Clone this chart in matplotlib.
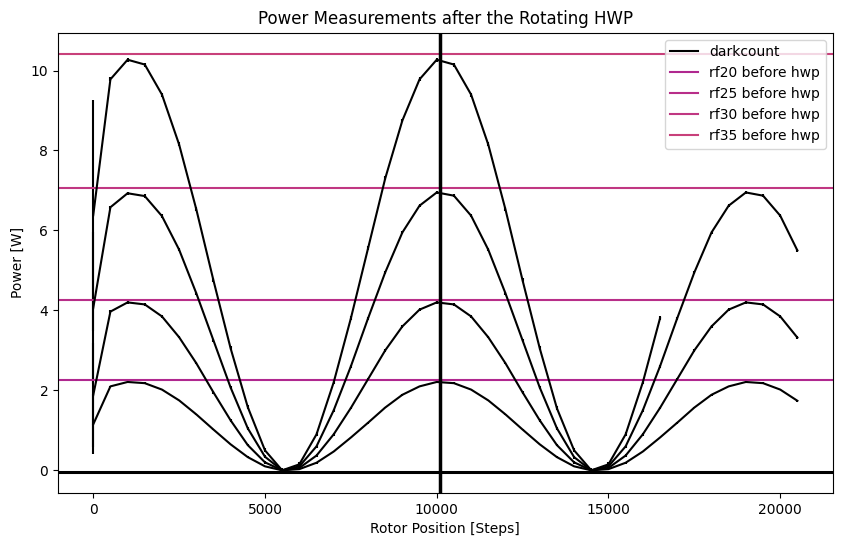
import numpy as np
import matplotlib
matplotlib.use("Agg")
import matplotlib.pyplot as plt

# Rotor positions [steps]
steps = np.arange(0, 20501, 500)

# Power after the HWP [W], one list per rf setting
p_rf35 = [6.38, 9.78, 10.27, 10.15, 9.40, 8.15, 6.53, 4.75, 3.05, 1.58, 0.50, 0.00,
          0.15, 0.90, 2.20, 3.80, 5.55, 7.30, 8.75, 9.78, 10.27, 10.15, 9.40, 8.15,
          6.53, 4.75, 3.05, 1.55, 0.50, 0.00, 0.15, 0.90, 2.20, 3.80]
p_rf30 = [4.06, 6.58, 6.93, 6.86, 6.36, 5.52, 4.43, 3.25, 2.07, 1.05, 0.34, 0.00,
          0.10, 0.60, 1.50, 2.60, 3.80, 4.95, 5.95, 6.62, 6.95, 6.87, 6.37, 5.52,
          4.43, 3.25, 2.07, 1.05, 0.33, 0.00, 0.10, 0.60, 1.50, 2.60, 3.80, 4.95,
          5.95, 6.62, 6.95, 6.87, 6.37, 5.50]
p_rf25 = [1.88, 3.97, 4.20, 4.15, 3.85, 3.33, 2.68, 1.95, 1.25, 0.63, 0.20, 0.00,
          0.06, 0.37, 0.90, 1.56, 2.28, 3.00, 3.60, 4.02, 4.20, 4.15, 3.85, 3.33,
          2.68, 1.95, 1.25, 0.63, 0.20, 0.00, 0.06, 0.37, 0.90, 1.56, 2.28, 3.00,
          3.60, 4.02, 4.20, 4.15, 3.85, 3.32]
p_rf20 = [1.15, 2.10, 2.21, 2.18, 2.02, 1.75, 1.40, 1.02, 0.65, 0.33, 0.10, 0.00,
          0.03, 0.19, 0.47, 0.82, 1.19, 1.57, 1.89, 2.10, 2.21, 2.18, 2.02, 1.75,
          1.40, 1.02, 0.65, 0.33, 0.10, 0.00, 0.03, 0.19, 0.47, 0.82, 1.19, 1.57,
          1.89, 2.10, 2.21, 2.18, 2.02, 1.74]

# measurement error: large on the first reading, small afterwards
first_err = [2.89, 1.90, 1.30, 0.75]
other_err = [0.05, 0.04, 0.03, 0.02]

# reference powers before the HWP [W]
labels_before = ["rf20 before hwp", "rf25 before hwp", "rf30 before hwp", "rf35 before hwp"]
power_before = [2.25, 4.27, 7.05, 10.42]
colors_before = ["#b0288f", "#b82e89", "#c03782", "#c8407a"]

darkcount = -0.04
max_step = 10090

fig, ax = plt.subplots(figsize=(8.41, 5.47))
fig.subplots_adjust(left=0.069, right=0.990, top=0.940, bottom=0.099)

series = [p_rf35, p_rf30, p_rf25, p_rf20]
for i, p in enumerate(series):
    x = steps[:len(p)]
    err = np.full(len(p), other_err[i])
    err[0] = first_err[i]
    ax.errorbar(x, p, yerr=err, color="black", linewidth=1.5, elinewidth=1.5)

ax.axhline(darkcount, color="black", linewidth=2.2, label="darkcount")
for lab, val, col in zip(labels_before, power_before, colors_before):
    ax.axhline(val, color=col, linewidth=1.5, label=lab)
ax.axvline(max_step, color="black", linewidth=2.5)

ax.set_xlim(-1025, 21525)
ax.set_ylim(-0.563, 10.943)
ax.set_title("Power Measurements after the Rotating HWP")
ax.set_xlabel("Rotor Position [Steps]")
ax.set_ylabel("Power [W]")
leg = ax.legend(loc="upper right")
leg.get_lines()[0].set_linewidth(1.5)

plt.savefig("out.png", dpi=100)
